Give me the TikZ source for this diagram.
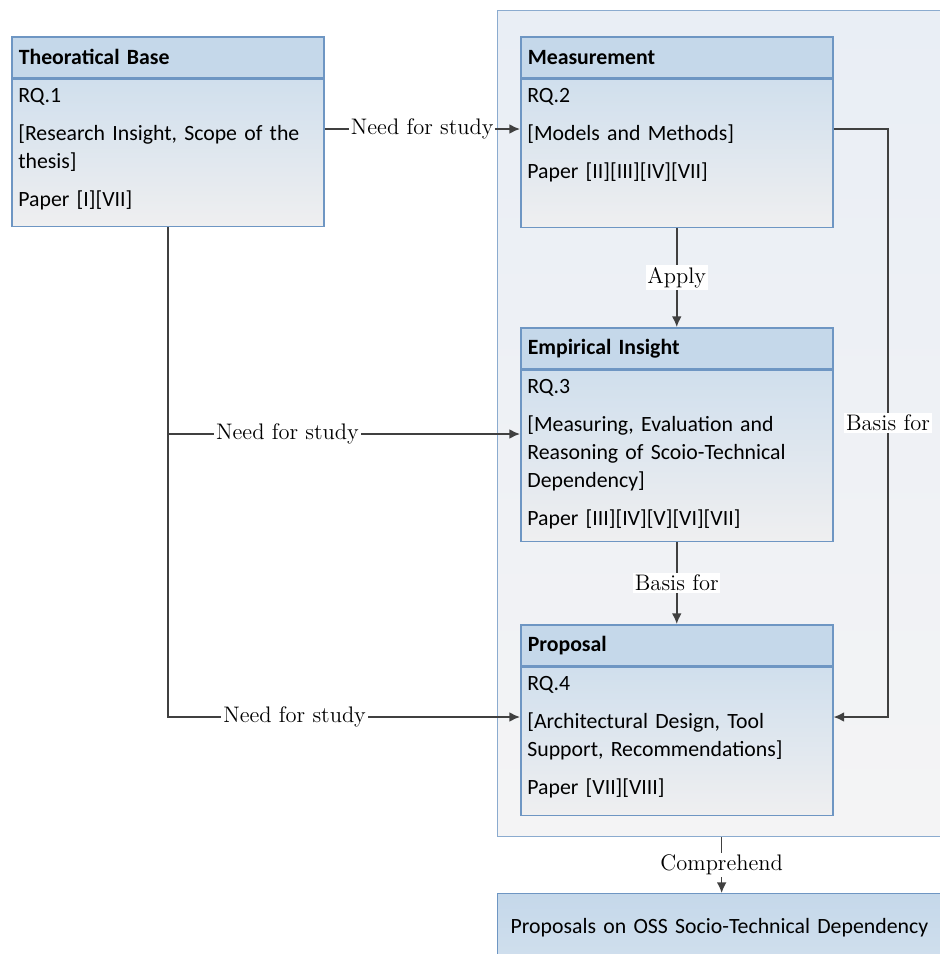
\documentclass[tikz,border=0pt]{standalone}
\usepackage{fontspec}
\setmainfont{Carlito}
\newfontfamily\lblfont{Latin Modern Roman}
\usetikzlibrary{positioning,arrows.meta}
\definecolor{boxline}{HTML}{6E96C3}
\definecolor{headfill}{HTML}{C5D8EA}
\definecolor{bodytop}{HTML}{D0DFED}
\definecolor{bodybot}{HTML}{EFEFF0}
\definecolor{paneltop}{HTML}{E9EEF5}
\definecolor{panelbot}{HTML}{F4F4F5}
\definecolor{wire}{HTML}{404040}

\begin{document}
\begin{tikzpicture}[x=0.02cm,y=-0.02cm,
  >={Latex[length=6pt,width=5.5pt]},
  boxhead/.style={draw=boxline,fill=headfill,line width=0.9pt,anchor=north west,
    minimum width=6.24cm,minimum height=0.82cm,text width=5.96cm,inner xsep=0.14cm,
    inner ysep=0pt,align=left,font=\fontsize{12.4}{15.9}\selectfont\bfseries},
  boxbody/.style={draw=boxline,top color=bodytop,bottom color=bodybot,line width=0.9pt,
    anchor=north west,minimum width=6.24cm,inner sep=0pt},
  bodytext/.style={anchor=north west,text width=5.96cm,inner xsep=0.14cm,inner ysep=0.19cm,
    align=left,font=\fontsize{12.4}{15.9}\selectfont},
  lbl/.style={fill=white,inner sep=1pt,font=\lblfont\fontsize{12.8}{14}\selectfont},
  wire/.style={draw=wire,line width=0.9pt}]
            \useasboundingbox (0,0) rectangle (940,954);
            % background panel and result box
            \node[draw=boxline!80,top color=paneltop,bottom color=panelbot,line width=0.8pt,
              anchor=north west,minimum width=8.96cm,minimum height=16.52cm,inner sep=0pt] (panel) at (497,10) {};
            \node[draw=boxline,top color=headfill,bottom color=bodytop,line width=0.8pt,
              anchor=north west,minimum width=8.96cm,minimum height=1.34cm,text width=8.44cm,
              inner xsep=0.26cm,align=left,font=\fontsize{12.4}{15.9}\selectfont] (out) at (497,893)
              {Proposals on OSS Socio-Technical Dependency};
            % theoratical base
            \node[boxhead] (tHead) at (11,36) {Theoratical Base};
            \node[boxbody,minimum height=2.94cm] (tBody) at (tHead.south west) {};
            \node[bodytext] (tText) at (tBody.north west)
              {RQ.1\\[5.7pt] [Research Insight, Scope of the\\ thesis]\\[5.7pt] Paper [I][VII]};
            % measurement
            \node[boxhead] (mHead) at (520,36) {Measurement};
            \node[boxbody,minimum height=2.96cm] (mBody) at (mHead.south west) {};
            \node[bodytext] (mText) at (mBody.north west)
              {RQ.2\\[5.7pt] [Models and Methods]\\[5.7pt] Paper [II][III][IV][VII]};
            % empirical insight
            \node[boxhead] (eHead) at (520,327) {Empirical Insight};
            \node[boxbody,minimum height=3.42cm] (eBody) at (eHead.south west) {};
            \node[bodytext] (eText) at (eBody.north west)
              {RQ.3\\[5.7pt] [Measuring, Evaluation and\\ Reasoning of Scoio-Technical\\ Dependency]\\[5.7pt] Paper [III][IV][V][VI][VII]};
            % proposal
            \node[boxhead] (pHead) at (520,624) {Proposal};
            \node[boxbody,minimum height=2.96cm] (pBody) at (pHead.south west) {};
            \node[bodytext] (pText) at (pBody.north west)
              {RQ.4\\[5.7pt] [Architectural Design, Tool\\ Support, Recommendations]\\[5.7pt] Paper [VII][VIII]};
            % rows of the connectors
            \coordinate (topRow) at (0,129);
            \coordinate (midRow) at (0,434);
            \coordinate (lowRow) at (0,717);
            \coordinate (rail) at (888,0);
            \draw[wire,->] (tBody.east |- topRow) -- node[lbl]{Need for study} (mBody.west |- topRow);
            \draw[wire,->] (tBody.south) |- node[lbl,pos=0.68]{Need for study} (pBody.west |- lowRow);
            \draw[wire,->] (tBody.south |- midRow) -- node[lbl,pos=0.34]{Need for study} (eBody.west |- midRow);
            \draw[wire,->] (mBody.south) -- node[lbl]{Apply} (eHead.north);
            \draw[wire,->] (eBody.south) -- node[lbl]{Basis for} (pHead.north);
            \draw[wire,->] (mBody.east |- topRow) -| node[lbl,pos=0.75]{Basis for} (rail |- lowRow) -- (pBody.east |- lowRow);
            \draw[wire,->] (panel.south) -- node[lbl]{Comprehend} (out.north);
        \end{tikzpicture}
\end{document}
